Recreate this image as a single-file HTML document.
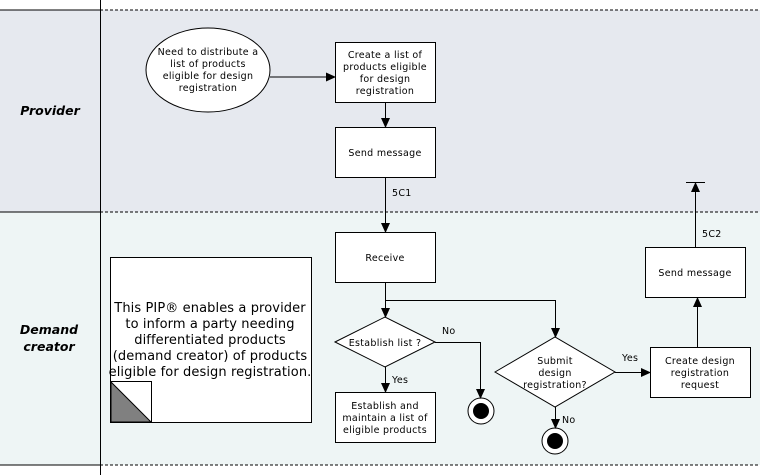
<!DOCTYPE html>
<html><head><meta charset="utf-8"><style>
body{margin:0;background:#fff}
svg{display:block}
text{font-family:"DejaVu Sans","Liberation Sans",sans-serif;font-size:9.5px;letter-spacing:0.3px;fill:#000}
.l{font-size:12.5px;font-weight:bold;font-style:italic;letter-spacing:0}
.n{font-size:13px;letter-spacing:0.1px}
</style></head><body>
<svg width="760" height="475" viewBox="0 0 760 475">
<defs><marker id="a" markerWidth="10" markerHeight="10" refX="9" refY="5" orient="auto" markerUnits="userSpaceOnUse"><path d="M0,0.5 L10,5 L0,9.5z" fill="#000"/></marker></defs>
<rect x="0" y="10" width="760" height="202" fill="#e6e9ef"/>
<rect x="0" y="212" width="760" height="253" fill="#eef5f5"/>
<line x1="0" y1="10" x2="100" y2="10" stroke="#000"/>
<line x1="100" y1="10" x2="760" y2="10" stroke="#000" stroke-dasharray="3,2"/>
<line x1="0" y1="212" x2="100" y2="212" stroke="#000"/>
<line x1="100" y1="212" x2="760" y2="212" stroke="#000" stroke-dasharray="3,2"/>
<line x1="0" y1="465" x2="100" y2="465" stroke="#000"/>
<line x1="100" y1="465" x2="760" y2="465" stroke="#000" stroke-dasharray="3,2"/>
<line x1="100.5" y1="0" x2="100.5" y2="475" stroke="#000"/>
<text class="l" x="50" y="115" text-anchor="middle">Provider</text>
<text class="l" x="49" y="334" text-anchor="middle">Demand</text>
<text class="l" x="49" y="351" text-anchor="middle">creator</text>
<g stroke="#000" fill="#fff">
<ellipse cx="208" cy="70" rx="62" ry="42"/>
<rect x="335.5" y="42.5" width="100" height="60"/>
<rect x="335.5" y="127.5" width="100" height="50"/>
<rect x="335.5" y="232.5" width="100" height="50"/>
<rect x="335.5" y="392.5" width="100" height="50"/>
<rect x="650.5" y="347.5" width="100" height="50"/>
<rect x="645.5" y="247.5" width="100" height="50"/>
<path d="M335,342 L385,317 L435,342 L385,367z"/>
<path d="M495,372 L555,337 L615,372 L555,407z"/>
<rect x="110.5" y="257.5" width="201" height="165"/>
<rect x="110.5" y="381.5" width="41" height="41"/>
<circle cx="481" cy="411" r="13"/>
<circle cx="555" cy="441" r="13"/>
</g>
<path d="M111,382 L151,422 L111,422z" fill="#808080" stroke="#000"/>
<circle cx="481" cy="411" r="8"/><circle cx="555" cy="441" r="8"/>
<g stroke="#000" fill="none" marker-end="url(#a)">
<line x1="270" y1="77" x2="335" y2="77"/>
<line x1="385.5" y1="103" x2="385.5" y2="127"/>
<line x1="385.5" y1="178" x2="385.5" y2="232"/>
<line x1="385.5" y1="283" x2="385.5" y2="317"/>
<polyline points="385.5,300.5 555.5,300.5 555.5,337"/>
<line x1="385.5" y1="367" x2="385.5" y2="392"/>
<polyline points="435,342.5 480.5,342.5 480.5,398"/>
<line x1="555.5" y1="407" x2="555.5" y2="428"/>
<line x1="615" y1="372.5" x2="650" y2="372.5"/>
<line x1="697.5" y1="347" x2="697.5" y2="298"/>
<line x1="695.5" y1="247" x2="695.5" y2="183"/>
</g>
<line x1="686" y1="182.5" x2="705" y2="182.5" stroke="#000"/>
<g text-anchor="middle">
<text x="208" y="55">Need to distribute a</text>
<text x="208" y="67">list of products</text>
<text x="208" y="79">eligible for design</text>
<text x="208" y="91">registration</text>
<text x="385" y="58">Create a list of</text>
<text x="385" y="70">products eligible</text>
<text x="385" y="82">for design</text>
<text x="385" y="94">registration</text>
<text x="385" y="156">Send message</text>
<text x="385" y="261">Receive</text>
<text x="385" y="346">Establish list ?</text>
<text x="385" y="409">Establish and</text>
<text x="385" y="421">maintain a list of</text>
<text x="385" y="433">eligible products</text>
<text x="555" y="364">Submit</text>
<text x="555" y="376">design</text>
<text x="555" y="388">registration?</text>
<text x="700" y="364">Create design</text>
<text x="700" y="376">registration</text>
<text x="700" y="388">request</text>
<text x="695" y="276">Send message</text>
<text class="n" x="210" y="312">This PIP® enables a provider</text>
<text class="n" x="210" y="328">to inform a party needing</text>
<text class="n" x="210" y="344">differentiated products</text>
<text class="n" x="210" y="360">(demand creator) of products</text>
<text class="n" x="210" y="376">eligible for design registration.</text>
</g>
<text x="392" y="196">5C1</text>
<text x="702" y="237">5C2</text>
<text x="442" y="334">No</text>
<text x="392" y="383">Yes</text>
<text x="622" y="361">Yes</text>
<text x="562" y="423">No</text>
</svg>
</body></html>
